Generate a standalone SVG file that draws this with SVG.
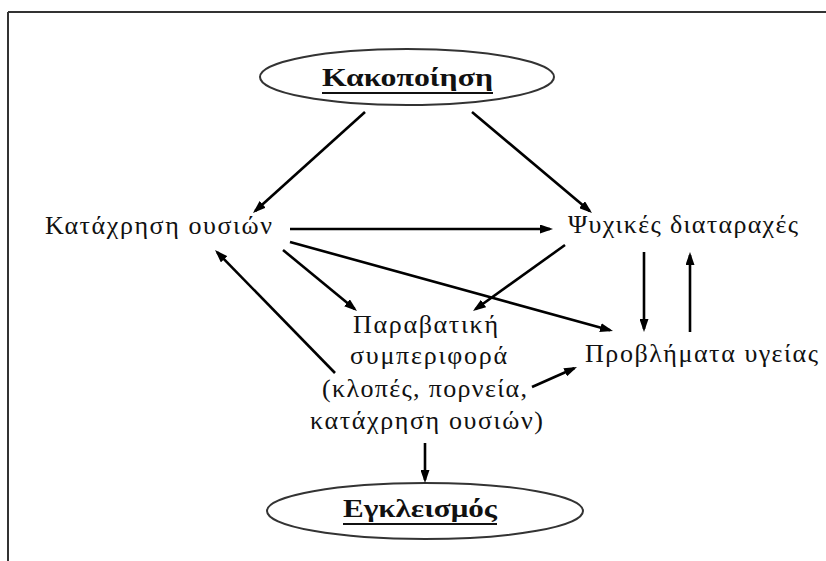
<svg xmlns="http://www.w3.org/2000/svg" width="826" height="561" viewBox="0 0 826 561">
<defs>
<marker id="ah" markerUnits="userSpaceOnUse" markerWidth="13" markerHeight="9" viewBox="0 0 13 9" refX="10" refY="4.5" orient="auto">
<path d="M0,0 L13,4.5 L0,9 z" fill="#000"/>
</marker>
<style>
.t{font-family:"Liberation Serif","Times New Roman",serif;font-size:26px;fill:#111}
.b{font-family:"Liberation Serif","Times New Roman",serif;font-size:26px;font-weight:bold;fill:#111}
.e{fill:#fff;stroke:#333;stroke-width:2}
.c line{stroke:#000;stroke-width:2.6;marker-end:url(#ah)}
.u{stroke:#111;stroke-width:2}
</style>
</defs>
<rect width="826" height="561" fill="#fff"/>
<g id="frame" stroke="#333" stroke-width="2" fill="none">
<line x1="8" y1="12" x2="826" y2="12"/>
<line x1="8" y1="12" x2="8" y2="561"/>
</g>
<g id="kakopoiisi">
<ellipse class="e" cx="407" cy="77" rx="147" ry="28"/>
<text class="b" x="322" y="86" textLength="171" lengthAdjust="spacingAndGlyphs">Κακοποίηση</text>
<line class="u" x1="322" y1="93" x2="493" y2="93"/>
</g>
<g id="katachrisi">
<text class="t" x="45" y="234" textLength="227" lengthAdjust="spacing">Κατάχρηση ουσιών</text>
</g>
<g id="psychikes">
<text class="t" x="568" y="233" textLength="230" lengthAdjust="spacing">Ψυχικές διαταραχές</text>
</g>
<g id="paravatiki">
<text class="t" x="353" y="333" textLength="145" lengthAdjust="spacing">Παραβατική</text>
<text class="t" x="350" y="364" textLength="157" lengthAdjust="spacing">συμπεριφορά</text>
<text class="t" x="322" y="397" textLength="205" lengthAdjust="spacing">(κλοπές, πορνεία,</text>
<text class="t" x="310" y="429" textLength="233" lengthAdjust="spacing">κατάχρηση ουσιών)</text>
</g>
<g id="provlimata">
<text class="t" x="585" y="362" textLength="233" lengthAdjust="spacing">Προβλήματα υγείας</text>
</g>
<g id="egkleismos">
<ellipse class="e" cx="425" cy="511" rx="158" ry="28"/>
<text class="b" x="343" y="517" textLength="154" lengthAdjust="spacingAndGlyphs">Εγκλεισμός</text>
<line class="u" x1="343" y1="524" x2="497" y2="524"/>
</g>
<g id="connectors" class="c">
<line x1="365" y1="112" x2="255.2" y2="211"/>
<line x1="472" y1="112" x2="589.7" y2="211.1"/>
<line x1="290" y1="229" x2="550" y2="229"/>
<line x1="290" y1="242" x2="610.1" y2="330.2"/>
<line x1="283" y1="250" x2="354.7" y2="309.1"/>
<line x1="565" y1="245" x2="475.4" y2="309.3"/>
<line x1="335" y1="373" x2="217.1" y2="252.1"/>
<line x1="644" y1="252" x2="644" y2="329"/>
<line x1="690" y1="332" x2="690" y2="255"/>
<line x1="532" y1="387" x2="574.3" y2="368.2"/>
<line x1="425" y1="443" x2="425" y2="480"/>
</g>
</svg>
